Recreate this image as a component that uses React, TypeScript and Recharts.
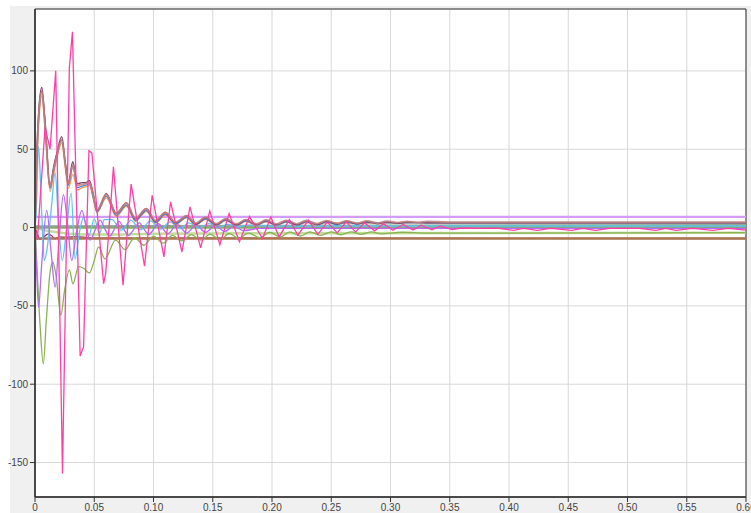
import React from 'react';
import { LineChart, Line, XAxis, YAxis, CartesianGrid, ReferenceArea } from 'recharts';

type P = [number, number];

const xTicks = [0, 0.05, 0.1, 0.15, 0.2, 0.25, 0.3, 0.35, 0.4, 0.45, 0.5, 0.55, 0.6];
const yTicks = [-150, -100, -50, 0, 50, 100];

const pink: P[] = [
  [0, 0], [0.002, -8], [0.0045, 20], [0.0085, 64], [0.0127, 50], [0.0175, 100], [0.0232, -157],
  [0.029, 102], [0.0316, 125], [0.0381, -82], [0.041, -76], [0.0455, 49], [0.048, 47.6],
  [0.0579, -35.8], [0.0597, -29], [0.0662, 38.7], [0.0743, -36.8], [0.0811, 27.7], [0.0924, -24.7],
  [0.0989, 20.6], [0.1088, -18.7], [0.1144, 16.4], [0.124, -15.6], [0.1308, 13.2], [0.1398, -13],
  [0.1475, 10.6], [0.156, -11], [0.1638, 8.9], [0.1725, -9], [0.181, 7], [0.192, -7], [0.199, 6.8],
  [0.206, -6], [0.2147, 5.1], [0.2218, -4.9], [0.2308, 4.7], [0.2387, -4.3], [0.2466, 3.6],
  [0.255, -3.4], [0.2627, 3.6], [0.2705, -2.8], [0.278, 3], [0.2867, -2.1], [0.294, 2.5],
  [0.302, -1.7], [0.3107, 2], [0.319, -1.5], [0.326, 1.5], [0.335, -1.5], [0.342, 1], [0.352, -1.3],
  [0.36, -0.3], [0.375, -0.5], [0.39, -0.4], [0.404, -1.8], [0.412, -0.5], [0.424, -1.8],
  [0.435, -0.5], [0.453, -1.8], [0.462, -0.5], [0.473, -1.8], [0.485, -0.5], [0.51, -0.5],
  [0.524, -1.8], [0.532, -0.5], [0.541, -1.8], [0.555, -0.5], [0.572, -1.8], [0.585, -0.5], [0.6, -1.6],
];

const maroon: P[] = [
  [0, 0], [0.0012, 40], [0.0035, 78], [0.0057, 89.4], [0.0085, 68], [0.0127, 26], [0.0155, 38],
  [0.0184, 47.4], [0.0226, 58], [0.0255, 42], [0.0282, 29], [0.0319, 42], [0.0358, 28], [0.04, 28.7],
  [0.043, 28.7], [0.046, 30], [0.049, 22], [0.0523, 11], [0.0602, 21.7], [0.0686, 9], [0.0771, 15.7],
  [0.0847, 5.5], [0.094, 12], [0.1017, 4], [0.11, 9.6], [0.1186, 3], [0.128, 7.4], [0.1356, 2.3],
  [0.144, 6.4], [0.153, 2], [0.161, 5.3], [0.17, 1.8], [0.178, 4.8], [0.187, 2], [0.195, 4.5],
  [0.204, 1.8], [0.212, 4.3], [0.221, 1.9], [0.229, 4.1], [0.238, 2], [0.246, 4], [0.255, 2.2],
  [0.263, 3.9], [0.272, 2.3], [0.28, 3.8], [0.289, 2.4], [0.297, 3.6], [0.306, 2.6], [0.314, 3.5],
  [0.33, 3], [0.6, 3],
];

const blue: P[] = [
  [0, 0], [0.0012, 36], [0.0035, 75], [0.0057, 87], [0.0085, 66], [0.0127, 25], [0.0155, 36],
  [0.0184, 46], [0.0226, 56], [0.0255, 41], [0.0282, 27], [0.0319, 39], [0.0358, 25.5], [0.04, 26.5],
  [0.043, 27], [0.046, 28], [0.049, 20], [0.0523, 10], [0.0602, 20], [0.0686, 7.8], [0.0771, 14.3],
  [0.0847, 4.5], [0.094, 10.8], [0.1017, 3.2], [0.11, 8.6], [0.1186, 2.3], [0.128, 6.6], [0.1356, 1.8],
  [0.144, 5.6], [0.153, 1.5], [0.161, 4.7], [0.17, 1.4], [0.178, 4.2], [0.187, 1.6], [0.195, 3.9],
  [0.204, 1.5], [0.212, 3.7], [0.221, 1.6], [0.229, 3.5], [0.238, 1.7], [0.246, 3.4], [0.255, 1.9],
  [0.263, 3.3], [0.272, 2.2], [0.28, 3.2], [0.3, 3], [0.6, 3],
];

const orange: P[] = [
  [0, 0], [0.0012, 30], [0.0035, 70], [0.0057, 84], [0.0085, 62], [0.0127, 23], [0.0155, 33],
  [0.0184, 44], [0.0226, 54], [0.0255, 38], [0.0282, 25], [0.0319, 34], [0.0358, 24], [0.04, 25.5],
  [0.043, 26], [0.046, 27], [0.049, 19], [0.0523, 9.5], [0.0602, 19], [0.0686, 7], [0.0771, 13.6],
  [0.0847, 4], [0.094, 10.2], [0.1017, 2.8], [0.11, 8], [0.1186, 2], [0.128, 6.2], [0.1356, 1.5],
  [0.144, 5.2], [0.153, 1.3], [0.161, 4.4], [0.17, 1.2], [0.178, 4], [0.187, 1.4], [0.195, 3.7],
  [0.204, 1.4], [0.212, 3.4], [0.221, 1.5], [0.229, 3.2], [0.238, 1.6], [0.246, 3], [0.263, 2.8],
  [0.3, 3], [0.6, 3],
];

const rosy: P[] = [
  [0, 0], [0.0012, 37], [0.0035, 76], [0.0057, 87], [0.0085, 66], [0.0127, 26], [0.0155, 36],
  [0.0184, 46], [0.0226, 56], [0.0255, 41], [0.0282, 28], [0.0319, 40], [0.0358, 27], [0.04, 27.5],
  [0.043, 28], [0.046, 29], [0.049, 21], [0.0523, 11], [0.0602, 21], [0.0686, 9.2],
  [0.0771, 15.5], [0.0847, 6], [0.094, 12], [0.1017, 4.5], [0.11, 9.7], [0.1186, 3.5], [0.128, 7.6],
  [0.1356, 2.8], [0.144, 6.6], [0.153, 2.5], [0.161, 5.6], [0.17, 2.3], [0.178, 5.1], [0.187, 2.4],
  [0.195, 4.8], [0.204, 2.3], [0.212, 4.6], [0.221, 2.4], [0.229, 4.5], [0.238, 2.5], [0.246, 4.4],
  [0.255, 2.7], [0.263, 4.3], [0.272, 2.8], [0.28, 4.2], [0.289, 2.9], [0.297, 4.1], [0.306, 3.1],
  [0.314, 4], [0.323, 3.2], [0.331, 3.9], [0.35, 3.5], [0.6, 3.5],
];

const cyan: P[] = [
  [0, 0], [0.001, 9], [0.003, 52], [0.0055, 12], [0.0078, -21], [0.0105, -12], [0.014, 14],
  [0.017, 35], [0.0195, 8], [0.023, -21], [0.0265, -2], [0.0305, 22], [0.0338, -20], [0.0375, -3],
  [0.041, 6.5], [0.0455, -5], [0.05, 5.5], [0.0545, -3.5], [0.0585, 5], [0.065, 5.1], [0.073, -1.7],
  [0.081, 4.6], [0.089, -1.5], [0.0975, 4.2], [0.106, -1], [0.114, 3.6], [0.122, -0.6], [0.13, 3],
  [0.138, -0.2], [0.147, 2.5], [0.155, 0.2], [0.163, 2], [0.172, 0.5], [0.18, 1.6], [0.2, 1], [0.6, 1],
];

const violet: P[] = [
  [0, 0], [0.0015, -30], [0.003, -51], [0.0055, -25], [0.0099, 11], [0.0135, -15], [0.017, -38],
  [0.0205, -5], [0.024, 21], [0.0275, 2], [0.031, -21], [0.035, -3], [0.0396, 11], [0.043, 1],
  [0.0466, -8], [0.0505, -2], [0.055, 4.7], [0.059, -1], [0.063, -5.5], [0.067, -1], [0.071, 4],
  [0.075, -1], [0.079, -5], [0.0835, -1], [0.088, 3], [0.092, -1], [0.096, -4.5], [0.104, 2.5],
  [0.112, -4], [0.12, 2], [0.128, -3.5], [0.136, 1.5], [0.144, -3], [0.152, 1.2], [0.16, -2.5],
  [0.168, 0.8], [0.176, -2], [0.19, -0.5], [0.22, -0.5], [0.6, -0.5],
];

const olive: P[] = [
  [0, 0], [0.002, -30], [0.0045, -65], [0.007, -87], [0.0095, -60], [0.0125, -30], [0.015, -22],
  [0.018, -32], [0.0218, -56], [0.025, -40], [0.029, -27], [0.032, -36], [0.0367, -25], [0.041, -26],
  [0.046, -29], [0.05, -21], [0.0537, -12.4], [0.059, -20], [0.068, -8], [0.076, -14], [0.084, -6.5],
  [0.092, -11.3], [0.1, -5.5], [0.108, -10], [0.116, -5], [0.124, -8.5], [0.132, -4.5], [0.14, -8],
  [0.148, -4.2], [0.156, -7.8], [0.164, -3.8], [0.172, -7], [0.18, -3.5], [0.19, -6.5], [0.198, -3],
  [0.207, -6], [0.215, -2.8], [0.224, -5.4], [0.232, -2.8], [0.241, -5], [0.25, -2.8], [0.258, -4.6],
  [0.267, -2.8], [0.275, -4.3], [0.284, -2.8], [0.292, -4], [0.31, -3], [0.33, -3.6], [0.6, -3.3],
];

const darkRed: P[] = [
  [0, 0], [0.002, -4], [0.004, -7.5], [0.0075, -6], [0.011, -4], [0.0145, -5.5], [0.0167, -7.2],
  [0.021, -6], [0.026, -6.2], [0.035, -5.8], [0.05, -6.8], [0.6, -7],
];

const brown: P[] = [[0, -7], [0.6, -7]];
const lightPurple: P[] = [[0, 6.8], [0.6, 6.8]];
const greenZero: P[] = [[0, 0], [0.6, 0.3]];
const lightGreen: P[] = [[0, 0], [0.01, -2], [0.05, -4.5], [0.1, -4], [0.2, -3.6], [0.6, -3.4]];
const grayGreen: P[] = [[0, 0.8], [0.2, 1.2], [0.6, 1.6]];

const toRows = (pts: P[]) => pts.map(([t, v]) => ({ t, v }));

const seriesList: { name: string; pts: P[]; color: string; w: number; type: 'monotone' | 'linear'; op?: number }[] = [
  { name: 'darkRed', pts: darkRed, color: '#a5334f', w: 1.3, type: 'monotone' },
  { name: 'brown', pts: brown, color: '#a8764f', w: 2.5, type: 'linear' },
  { name: 'lightGreen', pts: lightGreen, color: '#b9d98f', w: 2.5, type: 'monotone', op: 0.9 },
  { name: 'greenZero', pts: greenZero, color: '#72ad52', w: 2.5, type: 'monotone', op: 0.9 },
  { name: 'grayGreen', pts: grayGreen, color: '#83a184', w: 2, type: 'monotone', op: 0.9 },
  { name: 'lightPurple', pts: lightPurple, color: '#d49cf7', w: 2.2, type: 'linear' },
  { name: 'olive', pts: olive, color: '#8bb254', w: 1.3, type: 'monotone' },
  { name: 'cyan', pts: cyan, color: '#5fc3f2', w: 1.3, type: 'monotone' },
  { name: 'violet', pts: violet, color: '#b46cf6', w: 1.3, type: 'monotone' },
  { name: 'orange', pts: orange, color: '#f5a060', w: 1.3, type: 'monotone' },
  { name: 'blue', pts: blue, color: '#4d80c4', w: 1.3, type: 'monotone' },
  { name: 'maroon', pts: maroon, color: '#7a3a66', w: 1.3, type: 'monotone' },
  { name: 'rosy', pts: rosy, color: '#c08282', w: 1.8, type: 'monotone', op: 0.9 },
  { name: 'pink', pts: pink, color: '#ff3fa6', w: 1.3, type: 'linear' },
];

const tickStyle = { fill: '#444', fontSize: 10, fontFamily: '"Liberation Sans", Arial, sans-serif' };

export default function App() {
  return (
    <div style={{ position: 'absolute', left: 0, top: 0, width: 751, height: 513, background: '#fff', overflow: 'hidden' }}>
      <div style={{ position: 'absolute', left: 10, top: 6, right: 0, bottom: 0, background: '#f0f0f0' }} />
      <div style={{ position: 'absolute', left: 0, top: 0 }}>
        <LineChart width={751} height={513} margin={{ top: 9, right: 5, bottom: 0, left: 0 }}>
          <CartesianGrid stroke="#d8d8d8" fill="#ffffff" />
          <XAxis
            type="number"
            dataKey="t"
            domain={[0, 0.6]}
            ticks={xTicks}
            allowDataOverflow
            height={16}
            tick={tickStyle}
            tickLine={{ stroke: '#333' }}
            axisLine={{ stroke: '#333', strokeWidth: 1.5 }}
            tickSize={5}
            tickFormatter={(v: number) => (v === 0 ? '0' : v.toFixed(2))}
            interval={0}
          />
          <YAxis
            type="number"
            domain={[-172, 139.5]}
            ticks={yTicks}
            allowDataOverflow
            width={35}
            tick={tickStyle}
            tickLine={{ stroke: '#333' }}
            axisLine={{ stroke: '#333', strokeWidth: 1.5 }}
            tickSize={5}
            interval={0}
          />
          {seriesList.map((s) => (
            <Line
              key={s.name}
              data={toRows(s.pts)}
              dataKey="v"
              type={s.type}
              stroke={s.color}
              strokeWidth={s.w}
              strokeOpacity={s.op ?? 1}
              dot={false}
              activeDot={false}
              isAnimationActive={false}
            />
          ))}
          <ReferenceArea x1={0} x2={0.6} y1={-172} y2={139.5} fill="none" fillOpacity={0} stroke="#333" strokeWidth={1} />
        </LineChart>
      </div>
    </div>
  );
}
